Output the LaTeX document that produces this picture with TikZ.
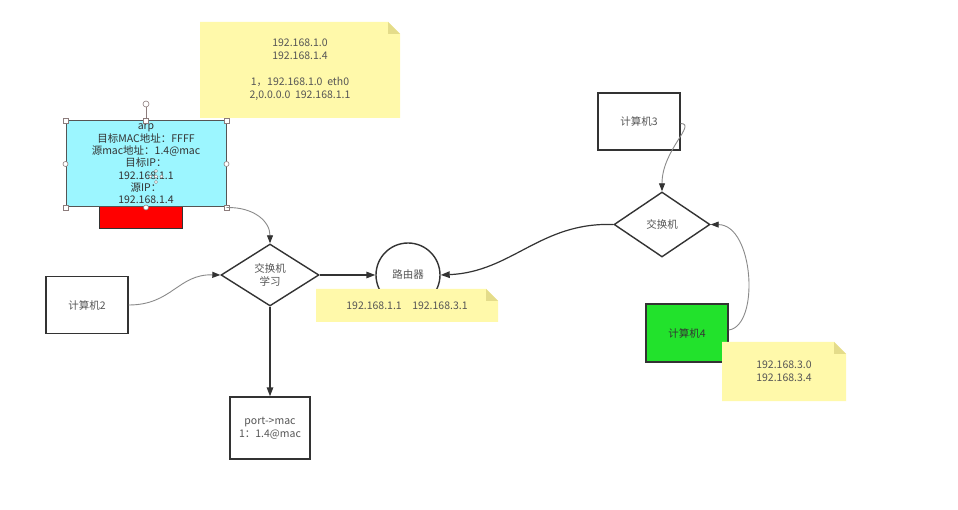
\documentclass[tikz,border=0pt]{standalone}
\usepackage{fontspec}
\setmainfont{Noto Sans CJK SC}
\usetikzlibrary{shapes.geometric,arrows.meta,calc}
\definecolor{notey}{HTML}{FFF9AA}
\definecolor{notefold}{HTML}{E4DC8A}
\definecolor{arpc}{HTML}{9CF6FF}
\definecolor{grn}{HTML}{22E22C}
\definecolor{txt}{HTML}{555555}
\definecolor{boxc}{HTML}{333333}
\definecolor{curvec}{HTML}{8A8A8A}
\definecolor{handc}{HTML}{8C7C7C}
\begin{document}
\begin{tikzpicture}[x=1pt,y=-1pt,
  font=\fontsize{10.5}{13}\selectfont,
  box/.style={draw=boxc, line width=1.4pt, fill=white, minimum width=82pt, minimum height=57pt, inner sep=0pt, text=txt, align=center},
  dia/.style={diamond, draw=boxc, line width=1.4pt, fill=white, inner sep=0pt, text=txt, align=center},
  curvy/.style={draw=curvec, line width=0.9pt, -{Triangle[length=8pt,width=6pt,color=boxc]}},
  straight/.style={draw=boxc, line width=1.4pt, -{Triangle[length=9pt,width=6.5pt]}},
  note/.style={inner sep=0pt, align=center, text=txt,
    path picture={
      \fill[notey] (path picture bounding box.north west)
        -- ($(path picture bounding box.north east)+(-12pt,0pt)$)
        -- ($(path picture bounding box.north east)+(0pt,-12pt)$)
        -- (path picture bounding box.south east)
        -- (path picture bounding box.south west) -- cycle;
      \fill[notefold] ($(path picture bounding box.north east)+(-12pt,0pt)$)
        -- ($(path picture bounding box.north east)+(-12pt,-12pt)$)
        -- ($(path picture bounding box.north east)+(0pt,-12pt)$) -- cycle;
    }},
  hsq/.style={draw=handc, fill=white, line width=0.6pt, minimum size=5pt, inner sep=0pt},
  hci/.style={circle, draw=handc, fill=white, line width=0.6pt, minimum size=6pt, inner sep=0pt},
  cur/.style={circle, draw=gray, fill=white, minimum size=3.2pt, inner sep=0pt}
]
\useasboundingbox (0,0) rectangle (958,510);
\fill[white] (0,0) rectangle (958,510);

% top note
\node[note, minimum width=200pt, minimum height=96pt] (n1) at (300,70)
  {192.168.1.0\\192.168.1.4\\[13pt]1，192.168.1.0\ \ eth0\\2,0.0.0.0\ \ 192.168.1.1};

% red block under arp
\node[draw=boxc, fill=red, line width=1pt, minimum width=83pt, minimum height=22pt, inner sep=0pt] (red) at (140.5,218) {};

% arp box
\node[draw=txt, fill=arpc, line width=1pt, minimum width=160pt, minimum height=86pt, inner sep=0pt, align=center, text=boxc,
  font=\fontsize{10.5}{12.3}\selectfont] (arp) at (146,164)
  {arp\\目标MAC地址：FFFF\\源mac地址：1.4@mac\\目标IP：\\192.168.1.1\\源IP：\\192.168.1.4};

% selection handles
\node[hci] (rot) at (146,104) {};
\draw[handc, line width=0.6pt] (rot) -- (arp.north);
\node[hsq] (h1) at (arp.north west) {};
\node[hsq] (h2) at (arp.north) {};
\node[hsq] (h3) at (arp.north east) {};
\node[hci, minimum size=5pt] (h4) at (arp.west) {};
\node[hci, minimum size=5pt] (h5) at (arp.east) {};
\node[hsq] (h6) at (arp.south west) {};
\node[hci, minimum size=5pt] (h7) at (arp.south) {};
\node[hsq] (h8) at (arp.south east) {};
% move cursor
\node[cur] (c1) at (156,171) {};
\node[cur] (c2) at (156,182) {};
\node[cur] (c3) at (150.5,176.5) {};
\node[cur] (c4) at (161.5,176.5) {};
\node[cur, minimum size=3.6pt] (c5) at (156,176.5) {};

% switch 1
\node[dia, minimum width=98pt, minimum height=62pt, aspect=1.58] (sw1) at (270,275) {交换机\\学习};
% computer 2
\node[box] (pc2) at (87,305) {计算机2};
% router
\node[circle, draw=boxc, line width=1.4pt, fill=white, minimum size=64pt, inner sep=0pt, text=txt] (rt) at (408,275) {路由器};
% port box
\node[box, minimum width=80pt, minimum height=62pt] (port) at (270,428) {port->mac\\1：1.4@mac};
% computer 3
\node[box] (pc3) at (639,121.5) {计算机3};
% switch 2
\node[dia, minimum width=96pt, minimum height=65pt, aspect=1.48] (sw2) at (662,224.5) {交换机};
% computer 4
\node[box, fill=grn, text=boxc, minimum height=58pt] (pc4) at (687,333) {计算机4};

% connectors
\draw[curvy] (arp.south east) .. controls (255,207) and (270,222) .. (sw1.north);
\draw[curvy] (pc2.east) .. controls (172,305) and (178,274) .. (sw1.west);
\draw[straight] (sw1.east) -- (rt.west);
\draw[straight] (sw1.south) -- (port.north);
\draw[curvy] ($(pc3.east)+(0,2)$) .. controls (697,124) and (662,150) .. (sw2.north);
\draw[straight, line width=1.2pt] (sw2.west) .. controls (540,222) and (512,272) .. (rt.east);
\draw[curvy] ($(pc4.east)+(0,-3)$) .. controls (760,326) and (754,225) .. (sw2.east);

% notes on top
\node[note, minimum width=182pt, minimum height=33pt] (n2) at (407,305.5) {192.168.1.1\quad 192.168.3.1};
\node[note, minimum width=124pt, minimum height=59pt] (n3) at (784,371.5) {192.168.3.0\\192.168.3.4};
\end{tikzpicture}
\end{document}
